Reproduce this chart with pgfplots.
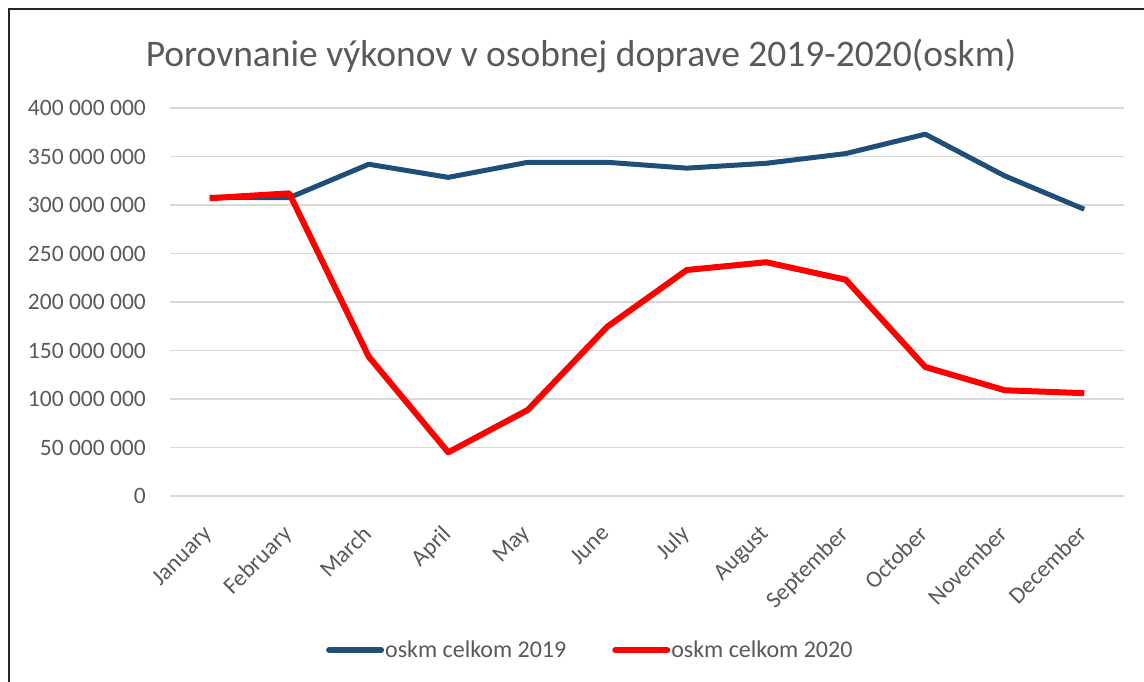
\documentclass[border=0pt]{standalone}
\usepackage{pgfplots}
\pgfplotsset{compat=1.18}
\usepackage{fontspec}
\setmainfont{Carlito}
\definecolor{txt}{HTML}{595959}
\definecolor{grd}{HTML}{D9D9D9}
\definecolor{c19}{HTML}{1F4E79}
\definecolor{c20}{HTML}{FF0000}
\begin{document}
\begin{tikzpicture}
\path[use as bounding box] (0pt,0pt) rectangle (1144pt,682pt);
\draw[line width=2pt, black!85] (9pt,0pt) -- (9pt,672.5pt) -- (1144pt,672.5pt);
\node[font=\fontsize{37.5}{42}\selectfont, text=txt] at (581pt,626pt) {Porovnanie výkonov v osobnej doprave 2019-2020(oskm)};
\begin{axis}[
  at={(170pt,186pt)}, anchor=south west,
  scale only axis, width=954pt, height=388pt,
  xmin=-0.5, xmax=11.5, ymin=0, ymax=400000000,
  xtick={0,...,11},
  xticklabels={January,February,March,April,May,June,July,August,September,October,November,December},
  ytick={0,50000000,100000000,150000000,200000000,250000000,300000000,350000000,400000000},
  yticklabels={0,50 000 000,100 000 000,150 000 000,200 000 000,250 000 000,300 000 000,350 000 000,400 000 000},
  scaled y ticks=false,
  ymajorgrids, grid style={grd, line width=1.5pt},
  axis line style={draw=none}, tick style={draw=none},
  yticklabel style={font=\fontsize{23.5}{26}\selectfont, text=txt, anchor=east, inner sep=0pt, xshift=-24pt},
  xticklabel style={font=\fontsize{23.5}{26}\selectfont, text=txt, rotate=45, anchor=north east, inner sep=0pt, xshift=-25pt, yshift=-14pt},
  legend style={at={(0.44,-0.397)}, anchor=center, draw=none, fill=none, legend columns=2,
    font=\fontsize{24}{26}\selectfont, text=txt, /tikz/every even column/.append style={column sep=45pt},
    inner sep=0pt, nodes={inner sep=1pt}},
  legend image code/.code={\draw[#1, line width=6pt, line cap=round] (0pt,0pt) -- (52pt,0pt);},
  line join=round,
]
\addplot[c19, line width=5pt] coordinates {
(0,308000000) (1,307500000) (2,342000000) (3,328500000) (4,344000000) (5,344000000)
(6,338000000) (7,343000000) (8,353000000) (9,373000000) (10,330000000) (11,295600000)};
\addlegendentry{oskm celkom 2019}
\addplot[c20, line width=6pt] coordinates {
(0,307000000) (1,312000000) (2,143600000) (3,45000000) (4,88700000) (5,174500000)
(6,233000000) (7,241000000) (8,223000000) (9,133000000) (10,109000000) (11,106000000)};
\addlegendentry{oskm celkom 2020}
\end{axis}
\end{tikzpicture}
\end{document}
